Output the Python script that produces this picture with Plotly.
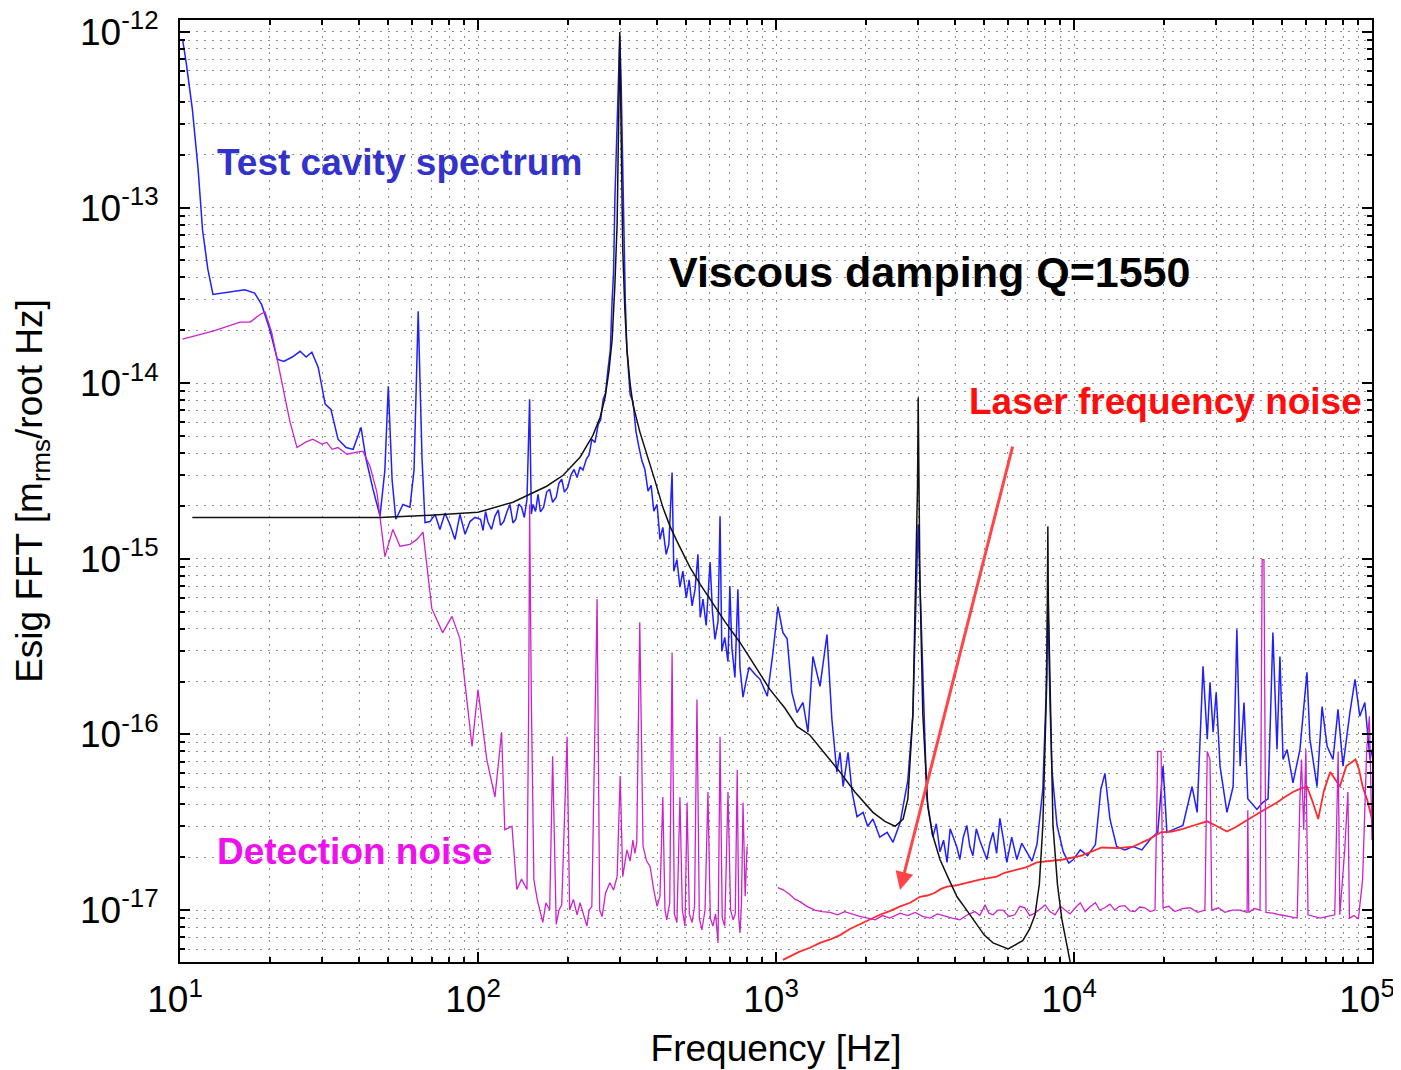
import math
import plotly.graph_objects as go

# ---------------- data (frequency [Hz], amplitude [m_rms/rootHz]) ----------------
blue_spectrum = [
    (10.2, 9.1e-13), (10.5, 6.6e-13), (11.0, 3.64e-13), (11.5, 1.66e-13), (11.9, 7.5e-14),
    (12.4, 4.46e-14), (12.9, 3.2e-14), (14.7, 3.3e-14), (16.5, 3.4e-14), (17.8, 3.26e-14),
    (18.8, 2.8e-14), (20.0, 2.03e-14), (21.2, 1.37e-14), (22.3, 1.33e-14), (23.8, 1.41e-14),
    (25.3, 1.52e-14), (26.5, 1.41e-14), (27.7, 1.50e-14), (29.1, 1.23e-14), (30.7, 7.6e-15),
    (32.1, 7.1e-15), (33.9, 4.8e-15), (36.1, 4.3e-15), (38.1, 4.2e-15), (40.5, 5.6e-15),
    (42.1, 3.7e-15), (44.4, 2.5e-15), (46.9, 1.75e-15), (48.7, 3.2e-15), (50.0, 9.6e-15),
    (51.5, 2.8e-15), (53.0, 1.68e-15), (56.0, 2.04e-15), (59.1, 1.97e-15), (61.0, 3.2e-15),
    (63.0, 2.57e-14), (64.9, 3.7e-15), (66.4, 1.61e-15), (69.0, 1.63e-15), (71.8, 1.79e-15),
    (74.5, 1.47e-15), (77.5, 1.82e-15), (80.5, 1.57e-15), (83.7, 1.29e-15), (87.0, 1.79e-15),
    (90.5, 1.38e-15), (94.0, 1.63e-15), (97.7, 1.72e-15), (102, 1.68e-15), (104, 1.45e-15),
    (106, 1.86e-15), (108, 1.62e-15), (111, 1.47e-15), (114, 1.75e-15), (117, 1.9e-15),
    (119, 1.55e-15), (122, 1.63e-15), (125, 1.85e-15), (128, 2.04e-15), (131, 1.6e-15),
    (134, 1.68e-15), (137, 2.05e-15), (140, 1.97e-15), (143, 1.72e-15), (146, 2.18e-15),
    (149, 8.1e-15), (151, 1.8e-15), (153, 2.04e-15), (156, 1.86e-15), (159, 2.33e-15),
    (162, 1.85e-15), (166, 1.97e-15), (170, 2.4e-15), (174, 2.49e-15), (178, 2.1e-15),
    (183, 2.24e-15), (187, 2.7e-15), (191, 2.84e-15), (195, 2.4e-15), (200, 2.55e-15),
    (205, 3.0e-15), (210, 3.23e-15), (215, 2.9e-15), (220, 3.33e-15), (225, 3.2e-15),
    (231, 3.7e-15), (236, 3.9e-15), (241, 4.8e-15), (247, 4.6e-15), (253, 5.8e-15),
    (258, 6.2e-15), (263, 8.1e-15), (268, 8.8e-15), (273, 1.2e-14), (278, 1.55e-14),
    (282, 3.0e-14), (285, 4.2e-14), (288, 1.12e-13), (292, 2.4e-13), (295, 5.4e-13),
    (299, 9.5e-13), (302, 5.5e-13), (304, 3.0e-13), (306, 1.2e-13), (309, 5.8e-14),
    (312, 3.0e-14), (316, 1.56e-14), (324, 8.6e-15), (331, 7.9e-15), (339, 5.3e-15),
    (347, 4.3e-15), (355, 3.6e-15), (363, 3.24e-15), (372, 2.43e-15), (381, 2.62e-15),
    (389, 1.87e-15), (399, 2.04e-15), (408, 1.29e-15), (417, 1.51e-15), (428, 1.06e-15),
    (437, 1.21e-15), (448, 3.1e-15), (454, 8.5e-16), (465, 9.9e-16), (476, 6.9e-16),
    (487, 8.5e-16), (500, 6.0e-16), (511, 7.6e-16), (523, 5.4e-16), (535, 6.7e-16),
    (547, 1.06e-15), (557, 4.64e-16), (569, 5.9e-16), (583, 4.17e-16), (601, 9.6e-16),
    (612, 5.0e-16), (624, 3.48e-16), (639, 4.4e-16), (649, 1.75e-15), (658, 2.97e-16),
    (673, 3.57e-16), (690, 2.6e-16), (700, 7.0e-16), (711, 3.13e-16), (728, 2.11e-16),
    (745, 6.7e-16), (757, 2.41e-16), (775, 1.63e-16), (793, 2.0e-16), (812, 2.41e-16),
    (850, 2.2e-16), (884, 2.06e-16), (935, 1.65e-16), (977, 2.93e-16), (1015, 5.35e-16),
    (1055, 3.8e-16), (1090, 3.5e-16), (1130, 1.74e-16), (1176, 1.33e-16), (1232, 1.52e-16),
    (1280, 1.03e-16), (1330, 2.78e-16), (1405, 1.88e-16), (1483, 3.7e-16), (1540, 1.22e-16),
    (1600, 6.1e-17), (1640, 7.9e-17), (1680, 5.05e-17), (1745, 7.9e-17), (1800, 4.7e-17),
    (1870, 3.4e-17), (1960, 3.6e-17), (2030, 3.0e-17), (2115, 3.3e-17), (2230, 2.6e-17),
    (2360, 2.77e-17), (2470, 2.43e-17), (2610, 3.15e-17), (2770, 5.5e-17), (2880, 1.3e-16),
    (2950, 5.9e-16), (3000, 1.57e-15), (3040, 7.6e-16), (3090, 3.5e-16), (3160, 9.4e-17),
    (3210, 4.3e-17), (3280, 3.3e-17), (3360, 2.6e-17), (3450, 3.1e-17), (3550, 2.15e-17),
    (3650, 2.5e-17), (3750, 1.87e-17), (3840, 2.9e-17), (3930, 2.6e-17), (4040, 2.3e-17),
    (4140, 1.94e-17), (4250, 2.6e-17), (4370, 3.03e-17), (4470, 2.3e-17), (4580, 2.04e-17),
    (4700, 2.9e-17), (4830, 2.49e-17), (4960, 2.2e-17), (5100, 1.94e-17), (5220, 2.4e-17),
    (5350, 2.77e-17), (5500, 2.1e-17), (5640, 3.33e-17), (5800, 2.5e-17), (5950, 1.87e-17),
    (6180, 2.6e-17), (6430, 1.94e-17), (6680, 2.4e-17), (6950, 2.15e-17), (7230, 1.9e-17),
    (7510, 2.36e-17), (7860, 4.9e-17), (8050, 1.58e-16), (8170, 5.9e-16), (8300, 1.58e-16),
    (8430, 6.3e-17), (8770, 3.03e-17), (9200, 2.15e-17), (9600, 1.85e-17), (9950, 1.94e-17),
    (10500, 2.2e-17), (11100, 2.04e-17), (11800, 2.36e-17), (12300, 4.85e-17), (12700, 6.0e-17),
    (13200, 3.3e-17), (13900, 2.3e-17), (14800, 2.2e-17), (15800, 2.3e-17), (16900, 2.2e-17),
    (18000, 2.52e-17), (19100, 2.77e-17), (19900, 6.6e-17), (20500, 2.77e-17), (21800, 2.9e-17),
    (23200, 3.03e-17), (24900, 5.05e-17), (25900, 3.6e-17), (27100, 2.44e-16), (28000, 9.4e-17),
    (28600, 1.98e-16), (29300, 1.03e-16), (30000, 1.74e-16), (30900, 6.6e-17), (32600, 3.6e-17),
    (34200, 5.05e-17), (35200, 3.97e-16), (36100, 6.6e-17), (37200, 1.52e-16), (38300, 4.3e-17),
    (41100, 3.74e-17), (43000, 4.1e-17), (44800, 4.3e-17), (46500, 3.8e-16), (48000, 8.2e-17),
    (49100, 2.78e-16), (50300, 7.2e-17), (51900, 8.2e-17), (54300, 5.3e-17), (57300, 8.2e-17),
    (60500, 2.26e-16), (61900, 9.4e-17), (65400, 5.05e-17), (68000, 1.44e-16), (70700, 8.55e-17),
    (74000, 7.2e-17), (76900, 1.39e-16), (79900, 6.6e-17), (84300, 1.33e-16), (87700, 2.06e-16),
    (91000, 1.27e-16), (94600, 1.52e-16), (98500, 7.2e-17), (100000, 8.2e-17),
]

viscous_model = [
    (11.0, 1.72e-15), (25.3, 1.72e-15), (46.9, 1.72e-15), (69.0, 1.77e-15), (100, 1.84e-15),
    (131, 2.10e-15), (170, 2.59e-15), (193, 2.99e-15), (220, 3.79e-15), (243, 5.05e-15),
    (257, 6.4e-15), (267, 8.3e-15), (275, 1.17e-14), (282, 1.78e-14), (288, 3.66e-14),
    (293, 8.1e-14), (295, 1.55e-13), (297, 3.9e-13), (299, 1.0e-12), (302, 3.2e-13),
    (304, 1.27e-13), (306, 5.8e-14), (311, 2.64e-14), (316, 1.56e-14), (324, 9.9e-15),
    (331, 7.6e-15), (349, 5.3e-15), (369, 3.94e-15), (393, 2.77e-15), (417, 1.97e-15),
    (441, 1.53e-15), (465, 1.26e-15), (515, 8.9e-16), (557, 7.16e-16), (601, 5.9e-16),
    (673, 4.4e-16), (757, 3.34e-16), (850, 2.44e-16), (955, 1.80e-16), (1072, 1.41e-16),
    (1176, 1.11e-16), (1300, 9.9e-17), (1460, 7.8e-17), (1640, 6.1e-17), (1840, 4.7e-17),
    (2115, 3.6e-17), (2320, 3.2e-17), (2510, 3.0e-17), (2670, 3.3e-17), (2770, 4.3e-17),
    (2880, 1.3e-16), (2950, 7.6e-16), (2985, 2.6e-15), (3000, 8.3e-15), (3015, 2.6e-15),
    (3040, 7.6e-16), (3110, 1.3e-16), (3230, 3.9e-17), (3350, 2.7e-17), (3550, 1.94e-17),
    (3800, 1.5e-17), (4050, 1.19e-17), (4400, 9.8e-18), (4720, 8.2e-18), (5000, 7.2e-18),
    (5350, 6.5e-18), (6010, 6.0e-18), (6730, 6.7e-18), (7100, 7.8e-18), (7400, 9.4e-18),
    (7650, 1.4e-17), (7860, 3.03e-17), (8000, 8.0e-17), (8110, 2.14e-16), (8140, 6.0e-16),
    (8170, 1.53e-15), (8200, 6.0e-16), (8300, 2.14e-16), (8500, 3.03e-17), (8800, 1.4e-17),
    (9100, 8.9e-18), (9700, 5.1e-18), (10100, 3.5e-18),
]

detection_low = [
    (10.2, 1.78e-14), (12.9, 1.98e-14), (15.9, 2.23e-14), (17.2, 2.23e-14), (18.6, 2.47e-14),
    (19.3, 2.54e-14), (20.3, 1.95e-14), (21.2, 1.37e-14), (22.2, 9.6e-15), (23.4, 6.0e-15),
    (24.7, 4.3e-15), (26.3, 4.6e-15), (27.9, 4.8e-15), (29.9, 4.5e-15), (31.1, 4.6e-15),
    (32.4, 4.2e-15), (33.9, 4.3e-15), (36.3, 3.94e-15), (39.2, 4.05e-15), (41.1, 4.1e-15),
    (43.4, 3.37e-15), (45.8, 2.39e-15), (48.7, 1.03e-15), (51.8, 1.47e-15), (54.7, 1.18e-15),
    (59.1, 1.21e-15), (62.4, 1.29e-15), (65.4, 1.42e-15), (70.0, 5.2e-16), (76.1, 3.8e-16),
    (81.8, 4.7e-16), (87.0, 3.5e-16), (95.5, 8.55e-17), (100, 1.8e-16), (107, 7.2e-17),
    (114, 4.4e-17), (120, 1.03e-16), (123, 2.87e-17), (130, 3.0e-17), (135, 1.31e-17),
    (140, 1.5e-17), (146, 1.31e-17), (148, 1.58e-16), (149, 2.04e-15), (151, 1.58e-16),
    (154, 1.49e-17), (158, 1.15e-17), (161, 1.0e-17), (165, 8.5e-18), (169, 1.1e-17),
    (174, 1.0e-17), (178, 7.5e-17), (183, 8.3e-18), (187, 1.0e-17), (191, 1.07e-17),
    (199, 9.7e-17), (203, 1.0e-17), (209, 1.15e-17), (215, 9.4e-18), (220, 1.1e-17),
    (225, 9.7e-18), (232, 8.1e-18), (236, 1.0e-17), (241, 1.05e-17), (251, 5.9e-16),
    (256, 1.0e-17), (261, 9.2e-18), (268, 1.25e-17), (277, 1.43e-17), (285, 1.3e-17),
    (293, 1.55e-17), (300, 5.8e-17), (306, 1.55e-17), (311, 1.9e-17), (316, 2.2e-17),
    (324, 1.9e-17), (331, 2.5e-17), (336, 2.1e-17), (341, 2.43e-17), (349, 4.35e-16),
    (358, 2.3e-17), (368, 1.9e-17), (378, 1.77e-17), (389, 1.3e-17), (399, 1.05e-17),
    (408, 1.2e-17), (417, 4.4e-17), (424, 1.0e-17), (430, 8.8e-18), (440, 1.1e-17),
    (448, 2.93e-16), (456, 9.5e-18), (465, 8.5e-18), (476, 4.4e-17), (485, 1.0e-17),
    (495, 8.1e-18), (503, 4.1e-17), (512, 9.5e-18), (523, 8.5e-18), (533, 1.05e-17),
    (543, 1.58e-16), (553, 9.0e-18), (564, 7.7e-18), (578, 1.0e-17), (591, 4.7e-17),
    (602, 9.0e-18), (614, 8.1e-18), (627, 9.5e-18), (639, 6.5e-18), (649, 9.7e-17),
    (660, 9.0e-18), (673, 8.1e-18), (690, 4.7e-17), (704, 1.0e-17), (718, 8.8e-18),
    (730, 9.5e-18), (741, 6.3e-17), (750, 9.0e-18), (757, 7.4e-18), (766, 1.1e-17),
    (775, 4.1e-17), (788, 1.2e-17), (800, 2.3e-17),
]

detection_high = [
    (1015, 1.34e-17), (1060, 1.3e-17), (1110, 1.23e-17), (1160, 1.15e-17), (1200, 1.12e-17),
    (1270, 1.05e-17), (1350, 1.0e-17), (1430, 9.8e-18), (1520, 9.7e-18), (1610, 9.4e-18),
    (1700, 9.8e-18), (1800, 9.5e-18), (1910, 9.2e-18), (2030, 9.0e-18), (2150, 8.8e-18),
    (2280, 9.3e-18), (2410, 9.0e-18), (2510, 9.3e-18), (2610, 9.6e-18), (2770, 9.3e-18),
    (2930, 9.7e-18), (3100, 9.2e-18), (3290, 9.0e-18), (3480, 9.5e-18), (3690, 9.2e-18),
    (3900, 9.0e-18), (4140, 8.8e-18), (4390, 9.4e-18), (4650, 9.8e-18), (4830, 9.3e-18),
    (5030, 1.07e-17), (5180, 9.6e-18), (5350, 9.4e-18), (5560, 1.0e-17), (5780, 1.0e-17),
    (6050, 9.2e-18), (6330, 9.4e-18), (6580, 1.05e-17), (6840, 1.03e-17), (7100, 9.3e-18),
    (7400, 9.6e-18), (7700, 1.02e-17), (8000, 1.07e-17), (8300, 9.8e-18), (8640, 9.4e-18),
    (9000, 1.05e-17), (9330, 1.0e-17), (9700, 9.5e-18), (10100, 1.03e-17), (10500, 1.1e-17),
    (10900, 9.8e-18), (11300, 1.04e-17), (11800, 1.1e-17), (12200, 1.0e-17), (12700, 1.03e-17),
    (13200, 1.08e-17), (13700, 1.0e-17), (14200, 1.05e-17), (14800, 1.06e-17), (15400, 9.9e-18),
    (16000, 9.8e-18), (16600, 1.04e-17), (17300, 1.03e-17), (18000, 9.8e-18), (18700, 1.0e-17),
    (19100, 8.0e-17), (19600, 8.0e-17), (19900, 1.03e-17), (20800, 1.05e-17), (21800, 9.8e-18),
    (23100, 1.02e-17), (24500, 1.03e-17), (26000, 9.7e-18), (27500, 1.0e-17), (28000, 8.0e-17),
    (28600, 7.2e-17), (29000, 1.0e-17), (30500, 1.03e-17), (32100, 9.7e-18), (34000, 1.0e-17),
    (36100, 1.0e-17), (38100, 9.7e-18), (38300, 3.7e-17), (38600, 9.7e-18), (40300, 1.02e-17),
    (42100, 1.0e-17), (42800, 9.9e-16), (43400, 9.9e-16), (44100, 9.7e-18), (46500, 9.6e-18),
    (49100, 9.4e-18), (52500, 9.2e-18), (56100, 9.0e-18), (57300, 4.3e-17), (58000, 7.2e-17),
    (59000, 2.87e-17), (60000, 8.2e-17), (61000, 9.4e-18), (64000, 9.2e-18), (67000, 9.0e-18),
    (71000, 9.2e-18), (75000, 9.4e-18), (77000, 8.0e-17), (78000, 9.4e-18), (81000, 2.2e-17),
    (83000, 4.7e-17), (84000, 9.0e-18), (87000, 9.3e-18), (90000, 8.9e-18), (93000, 1.49e-17),
    (96000, 8.2e-17), (98000, 1.27e-16), (100000, 2.5e-17),
]

laser_noise = [
    (1055, 5.2e-18), (1130, 5.5e-18), (1200, 5.8e-18), (1300, 6.1e-18), (1405, 6.5e-18),
    (1520, 6.8e-18), (1640, 7.2e-18), (1770, 7.8e-18), (1910, 8.3e-18), (2060, 8.8e-18),
    (2230, 9.4e-18), (2420, 9.9e-18), (2610, 1.05e-17), (2820, 1.1e-17), (3040, 1.19e-17),
    (3220, 1.21e-17), (3400, 1.25e-17), (3580, 1.32e-17), (3750, 1.36e-17), (4030, 1.38e-17),
    (4300, 1.42e-17), (4560, 1.46e-17), (4830, 1.49e-17), (5150, 1.52e-17), (5500, 1.55e-17),
    (5850, 1.63e-17), (6240, 1.68e-17), (6900, 1.75e-17), (7510, 1.87e-17), (8300, 1.9e-17),
    (9200, 1.94e-17), (10600, 2.04e-17), (11500, 2.15e-17), (12400, 2.27e-17), (14000, 2.25e-17),
    (15800, 2.3e-17), (17600, 2.5e-17), (19600, 2.77e-17), (21300, 2.8e-17), (23200, 2.9e-17),
    (25500, 3.05e-17), (28000, 3.2e-17), (30200, 3.0e-17), (32600, 2.8e-17), (34700, 2.95e-17),
    (36900, 3.15e-17), (39500, 3.4e-17), (42100, 3.6e-17), (45000, 3.85e-17), (48000, 4.1e-17),
    (51000, 4.4e-17), (54300, 4.7e-17), (57300, 4.9e-17), (60500, 5.05e-17), (63000, 4.2e-17),
    (66000, 3.3e-17), (69000, 4.8e-17), (72400, 6.1e-17), (75000, 5.6e-17), (78000, 5.05e-17),
    (82000, 6.6e-17), (85000, 6.9e-17), (88000, 7.2e-17), (90500, 6.3e-17), (93000, 5.05e-17),
    (96500, 4.2e-17), (100000, 3.3e-17),
]

x_ticks = [1e1, 1e2, 1e3, 1e4, 1e5]
x_ticktext = ["10<sup>1</sup>", "10<sup>2</sup>", "10<sup>3</sup>", "10<sup>4</sup>", "10<sup>5</sup>"]
y_ticks = [1e-17, 1e-16, 1e-15, 1e-14, 1e-13, 1e-12]
y_ticktext = ["10<sup>-17</sup>", "10<sup>-16</sup>", "10<sup>-15</sup>",
              "10<sup>-14</sup>", "10<sup>-13</sup>", "10<sup>-12</sup>"]

x_range = (10, 1e5)
y_range = (5.06e-18, 1.17e-12)

# ---------------- figure ----------------
FONT = "Arial, Liberation Sans, Helvetica, sans-serif"


def unzip(pairs):
    return [p[0] for p in pairs], [p[1] for p in pairs]


fig = go.Figure()
series = [
    (blue_spectrum, "#1f1fff", 1.5, "Test cavity spectrum"),
    (laser_noise, "#ff2a2a", 1.8, "Laser frequency noise"),
    (detection_low, "#cc22cc", 1.3, "Detection noise"),
    (detection_high, "#cc22cc", 1.3, "Detection noise (high)"),
    (viscous_model, "#111111", 1.5, "Viscous damping model"),
]
for pts, col, w, name in series:
    xs, ys = unzip(pts)
    fig.add_trace(go.Scatter(x=xs, y=ys, mode="lines", name=name,
                             line=dict(color=col, width=w), showlegend=False))

minor_x = [m * 10 ** d for d in range(1, 5) for m in range(2, 10)]
minor_y = [m * 10.0 ** d for d in range(-18, -11) for m in range(2, 10)]

grid_style = dict(gridcolor="#8a8a8a", griddash="2px,6px", gridwidth=1)

fig.update_xaxes(
    type="log", range=[math.log10(x_range[0]), math.log10(x_range[1])],
    tickvals=x_ticks, ticktext=x_ticktext, ticks="inside", ticklen=10, tickwidth=1.5,
    tickcolor="black", showline=True, linecolor="black", linewidth=2, mirror="allticks",
    showgrid=True, **grid_style,
    minor=dict(tickvals=minor_x, ticks="inside", ticklen=5, tickcolor="black",
               showgrid=True, **grid_style),
    tickfont=dict(family=FONT, size=37, color="black"), ticklabelstandoff=4,
    ticklabelshift=-5, ticklabeloverflow="allow",
    title=dict(text="Frequency [Hz]", font=dict(family=FONT, size=37, color="black"),
               standoff=16),
    zeroline=False, automargin=False,
)
fig.update_yaxes(
    type="log", range=[math.log10(y_range[0]), math.log10(y_range[1])],
    tickvals=y_ticks, ticktext=y_ticktext, ticks="inside", ticklen=10, tickwidth=1.5,
    tickcolor="black", showline=True, linecolor="black", linewidth=2, mirror="allticks",
    showgrid=True, **grid_style,
    minor=dict(tickvals=minor_y, ticks="inside", ticklen=5, tickcolor="black",
               showgrid=True, **grid_style),
    tickfont=dict(family=FONT, size=37, color="black"), ticklabelstandoff=12,
    ticklabeloverflow="allow",
    title=dict(text="Esig FFT [m<sub>rms</sub>/root Hz]",
               font=dict(family=FONT, size=37, color="black"), standoff=26),
    zeroline=False, automargin=False,
)

annotations = [
    dict(text="<b>Test cavity spectrum</b>", x=0.0294, y=0.849, color="#3333cc", size=37),
    dict(text="<b>Viscous damping Q=1550</b>", x=0.4086, y=0.7325, color="#000000", size=43),
    dict(text="<b>Laser frequency noise</b>", x=0.660, y=0.5945, color="#ff0d0d", size=37),
    dict(text="<b>Detection noise</b>", x=0.0294, y=0.1178, color="#ee11ee", size=37),
]
for a in annotations:
    fig.add_annotation(text=a["text"], xref="paper", yref="paper", x=a["x"], y=a["y"],
                       xanchor="left", yanchor="middle", showarrow=False,
                       font=dict(family=FONT, size=a["size"], color=a["color"]))

# arrow pointing at the laser frequency noise curve
fig.add_annotation(xref="paper", yref="paper", x=0.604, y=0.0764, ax=113, ay=-445,
                   axref="pixel", ayref="pixel", text="", showarrow=True,
                   arrowhead=2, arrowsize=1.2, arrowwidth=3, arrowcolor="#ff4545")

# the page body adds an 8px offset, so the figure is drawn 8px smaller than the window
fig.update_layout(
    width=1393, height=1062,
    margin=dict(l=172, r=29, t=12, b=108),
    paper_bgcolor="white", plot_bgcolor="white",
    font=dict(family=FONT, color="black"),
)

fig.write_html("out.html")
